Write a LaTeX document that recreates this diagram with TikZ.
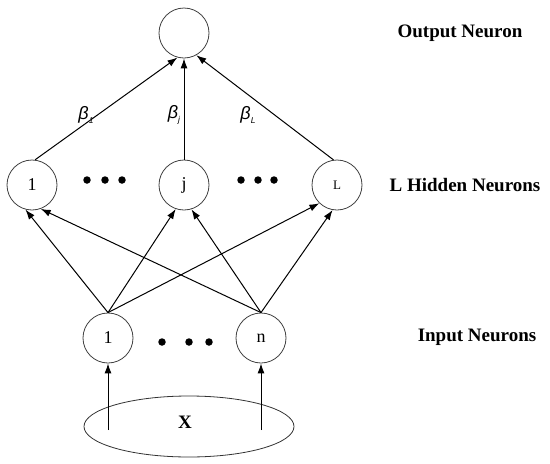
\documentclass[tikz,border=0pt]{standalone}
\usepackage{fontspec}
\setmainfont{Liberation Serif}
\newfontfamily\betafont{Liberation Sans}
\usetikzlibrary{arrows.meta,shapes.geometric}
\tikzset{
  neuron/.style={circle,draw=black!75,line width=0.8pt,minimum size=50pt,inner sep=0pt,font=\fontsize{18}{18}\selectfont},
  arr/.style={line width=1pt,-{Latex[length=10pt,width=7pt]}},
  lbl/.style={font=\fontsize{19}{19}\selectfont\bfseries},
  wt/.style={font=\betafont\itshape\fontsize{18}{18}\selectfont,inner sep=0pt},
  dot/.style={circle,fill=black,minimum size=7.5pt,inner sep=0pt}
}
\newcommand{\wsub}[1]{\raisebox{-0.45ex}{\fontsize{8.5}{8.5}\selectfont #1}}
\begin{document}
\begin{tikzpicture}[x=1pt,y=-1pt]
\useasboundingbox (0,0) rectangle (550,464);
% output
\node[neuron] (out) at (184,33) {};
% hidden
\node[neuron] (h1) at (32,185) {1};
\node[neuron] (hj) at (184,185) {j};
\node[neuron,font=\fontsize{13}{13}\selectfont] (hL) at (337,185) {L};
% input
\node[neuron] (in1) at (108,338) {1};
\node[neuron] (inn) at (261,338) {n};
% ellipse
\node[ellipse,draw=black!80,line width=0.8pt,minimum width=210pt,minimum height=61pt,inner sep=0pt] (xin) at (189,426.5) {};
\node[lbl] (xl) at (185,422) {X};
% dots
\node[dot] (d1) at (87,180) {};
\node[dot] (d2) at (105,180) {};
\node[dot] (d3) at (122,180) {};
\node[dot] (d4) at (241,180) {};
\node[dot] (d5) at (258,180) {};
\node[dot] (d6) at (274,180) {};
\node[dot] (d7) at (162,342) {};
\node[dot] (d8) at (189,342) {};
\node[dot] (d9) at (209,342) {};
% hidden -> output
\draw[arr] (h1.83) -- (out.-105);
\draw[arr] (hj.north) -- (out.south);
\draw[arr] (hL.98) -- (out.-61);
% input -> hidden
\draw[arr] (in1.north) -- (h1.-105);
\draw[arr] (in1.north) -- (hj.-109);
\draw[arr] (in1.north) -- (hL.-134);
\draw[arr] (inn.north) -- (h1.-70);
\draw[arr] (inn.north) -- (hj.-73);
\draw[arr] (inn.north) -- (hL.-100);
% x -> input
\coordinate (s1) at (108,430);
\coordinate (sn) at (261,430);
\draw[arr] (s1) -- (in1.south);
\draw[arr] (sn) -- (inn.south);
% weights
\node[wt] (b1) at (86,115) {β\wsub{1}};
\node[wt] (bj) at (174,115) {β\wsub{j}};
\node[wt] (bL) at (248,115) {β\wsub{L}};
% labels
\node[lbl] (lo) at (460,33) {Output Neuron};
\node[lbl] (lh) at (465,185) {L Hidden Neurons};
\node[lbl] (li) at (477,337) {Input Neurons};
\end{tikzpicture}
\end{document}
